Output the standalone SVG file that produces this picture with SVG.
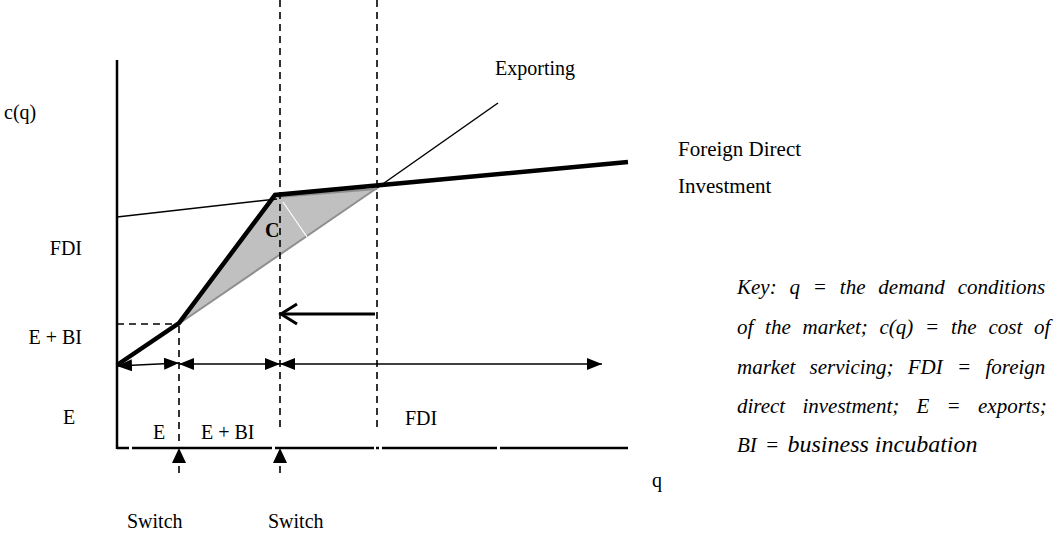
<svg xmlns="http://www.w3.org/2000/svg" width="1062" height="534" viewBox="0 0 1062 534">
<style>
text,tspan{font-family:"Liberation Serif","Times New Roman",serif;fill:#000}
.lbl{font-size:20px}
.key{font-size:21px;font-style:italic}
.big{font-size:24px;font-style:italic;font-family:"Liberation Serif","Times New Roman",serif}
.dash{stroke:#000;stroke-width:1.6;stroke-dasharray:7 5;fill:none}
.thin{stroke:#000;stroke-width:1.5;fill:none}
.thick{stroke:#000;stroke-width:4.5;fill:none;stroke-linejoin:miter}
.axis{stroke:#000;stroke-width:2.5;fill:none}
.arr{stroke:#000;stroke-width:1.6;fill:none}
</style>
<defs>
<marker id="tri" viewBox="0 0 15 12" refX="15" refY="6" markerWidth="15" markerHeight="12" markerUnits="userSpaceOnUse" orient="auto-start-reverse">
<path d="M0,0 L15,6 L0,12 z" fill="#000"/>
</marker>
</defs>
<rect width="1062" height="534" fill="#fff"/>

<g id="axes">
<line class="axis" x1="117" y1="60" x2="117" y2="449"/>
<path class="axis" d="M117,448 H129 M132,448 H272 M275,448 H374 M376,448 H379 M382,448 H497 M500,448 H628"/>
</g>

<g id="shaded-region">
<polygon points="180,323 275,195 377,188" fill="#c0c0c0"/>
<line x1="180" y1="323" x2="377" y2="188" stroke="#8f8f8f" stroke-width="2"/>
<line x1="278" y1="197" x2="377" y2="189" stroke="#8f8f8f" stroke-width="2"/>
<line x1="283" y1="202" x2="307" y2="237" stroke="#fff" stroke-width="1.2"/>
</g>

<g id="curves">
<line class="thin" x1="117" y1="217" x2="277" y2="199"/>
<line class="thin" x1="377" y1="188" x2="498" y2="103"/>
<polyline class="thick" points="117,365 179,323 275,195 628,162"/>
</g>

<g id="dashed-guides">
<line class="dash" x1="117" y1="324" x2="179" y2="324"/>
<line class="dash" x1="179" y1="326" x2="179" y2="446"/>
<line class="dash" x1="179" y1="466" x2="179" y2="478"/>
<line class="dash" x1="280" y1="0" x2="280" y2="432"/>
<line class="dash" x1="280" y1="466" x2="280" y2="478"/>
<line class="dash" x1="377" y1="0" x2="377" y2="428"/>
</g>

<g id="connectors">
<line class="arr" x1="117" y1="366" x2="179" y2="363" marker-start="url(#tri)" marker-end="url(#tri)"/>
<line class="arr" x1="179" y1="364" x2="280" y2="364" marker-start="url(#tri)" marker-end="url(#tri)"/>
<line class="arr" x1="280" y1="364" x2="602" y2="364" marker-start="url(#tri)" marker-end="url(#tri)"/>
<line x1="375" y1="314" x2="281" y2="314" stroke="#000" stroke-width="3"/>
<polyline points="297,304 281,314 297,324" fill="none" stroke="#000" stroke-width="3"/>
<polygon points="179,448 172,463 186,463" fill="#000"/>
<polygon points="280,448 273,463 287,463" fill="#000"/>
</g>

<g id="labels">
<text class="lbl" x="4" y="119">c(q)</text>
<text class="lbl" x="495" y="75">Exporting</text>
<text class="lbl" x="678" y="156" style="font-size:21px">Foreign Direct</text>
<text class="lbl" x="678" y="193" style="font-size:21px">Investment</text>
<text class="lbl" x="82" y="255" text-anchor="end">FDI</text>
<text class="lbl" x="82" y="344" text-anchor="end">E + BI</text>
<text class="lbl" x="63" y="424">E</text>
<text x="265" y="237" style="font-size:20px;font-weight:bold">C</text>
<text class="lbl" x="153" y="439">E</text>
<text class="lbl" x="201" y="439">E + BI</text>
<text class="lbl" x="405" y="425">FDI</text>
<text class="lbl" x="652" y="487">q</text>
<text class="lbl" x="127" y="528">Switch</text>
<text class="lbl" x="268" y="528">Switch</text>
</g>

<g id="key">
<text class="key" x="737" y="294" word-spacing="7.6">Key: q = the demand conditions</text>
<text class="key" x="737" y="334" word-spacing="6.5">of the market; c(q) = the cost of</text>
<text class="key" x="737" y="374" word-spacing="9">market servicing; FDI = foreign</text>
<text class="key" x="737" y="413" word-spacing="12">direct investment; E = exports;</text>
<text class="key" x="737" y="452" word-spacing="3">BI = <tspan class="big" word-spacing="0">business incubation</tspan></text>
</g>
</svg>
